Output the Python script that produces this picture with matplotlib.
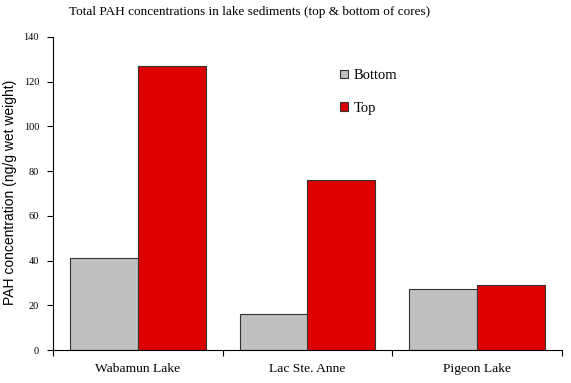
import matplotlib
matplotlib.use("Agg")
import matplotlib.pyplot as plt
import numpy as np

categories = ["Wabamun Lake", "Lac Ste. Anne", "Pigeon Lake"]
bottom_vals = [41, 16.3, 27.3]
top_vals = [127, 76, 29]
yticks = [0, 20, 40, 60, 80, 100, 120, 140]

serif = ["Liberation Serif", "DejaVu Serif"]
sans = ["Liberation Sans", "DejaVu Sans"]

fig = plt.figure(figsize=(5.71, 3.83), dpi=100)
ax = fig.add_axes([53/571, 33/383, (562-53)/571, (350-37)/383])

x = np.arange(len(categories))
w = 0.4
ax.bar(x - w/2, bottom_vals, w, color="#C0C0C0", edgecolor="#333333", linewidth=0.8, label="Bottom")
ax.bar(x + w/2, top_vals, w, color="#DD0000", edgecolor="#333333", linewidth=0.8, label="Top")

ax.set_xlim(-0.5, 2.5)
ax.set_ylim(0, 140)
ax.set_yticks(yticks)
ax.set_yticklabels([str(v) for v in yticks], fontfamily=serif, fontsize=7.5)
ax.set_xticks([-0.5, 0.5, 1.5, 2.5])
ax.set_xticklabels([])
ax.tick_params(axis="x", direction="out", length=4, width=0.8)
ax.tick_params(axis="y", direction="out", length=4, width=0.8, pad=6)
for i, c in enumerate(categories):
    ax.text(i, -0.06, c, transform=ax.get_xaxis_transform(), ha="center", va="center",
            fontfamily=serif, fontsize=9.7)

for s in ["top", "right"]:
    ax.spines[s].set_visible(False)
for s in ["left", "bottom"]:
    ax.spines[s].set_linewidth(0.8)

fig.text(10/571, 1 - 192/383, "PAH concentration (ng/g wet weight)", rotation=90,
         ha="center", va="center", fontfamily=sans, fontsize=10)

fig.text(250/571, 1 - 12/383, "Total PAH concentrations in lake sediments (top & bottom of cores)",
         ha="center", va="center", fontfamily=serif, fontsize=9.5)

leg = ax.legend(loc="upper left", bbox_to_anchor=((327-53)/509, (350-56)/313), frameon=False,
                prop={"family": serif, "size": 10.5}, handlelength=0.55, handleheight=0.55,
                handletextpad=0.4, labelspacing=1.35)

fig.savefig("out.png", dpi=100)
